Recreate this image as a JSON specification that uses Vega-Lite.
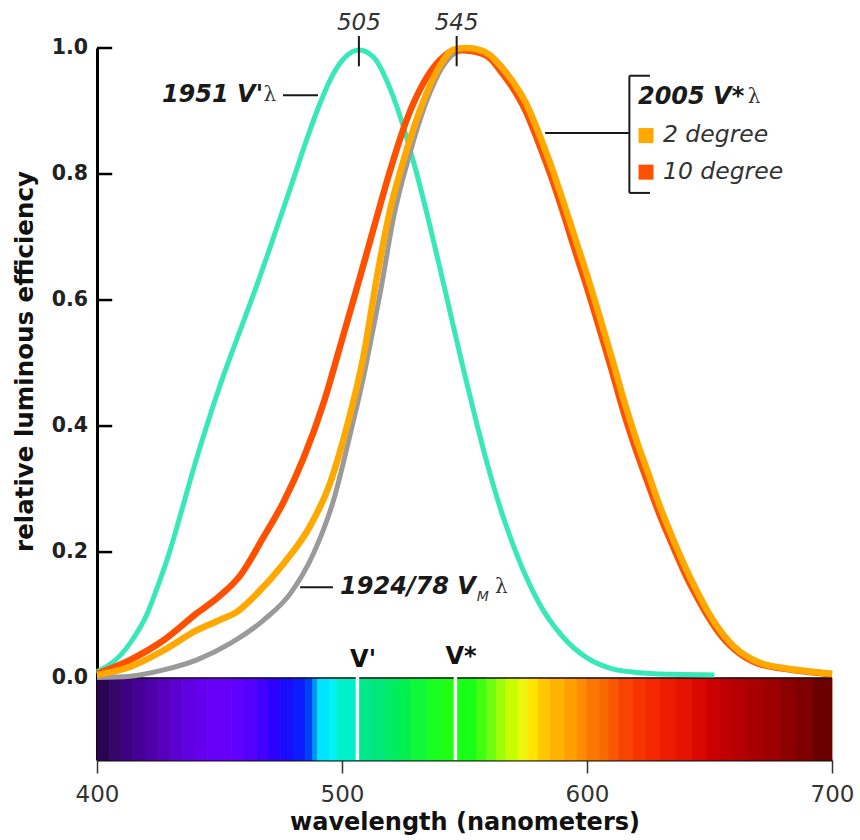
{
  "$schema": "https://vega.github.io/schema/vega-lite/v6.json",
  "width": 735,
  "height": 712,
  "autosize": "none",
  "padding": {"left": 97, "top": 48, "right": 28, "bottom": 80},
  "background": "white",
  "config": {
    "view": {"stroke": null},
    "font": "DejaVu Sans",
    "axisX": {"grid": false, "domainColor": "#111", "domainWidth": 2, "tickColor": "#333", "tickWidth": 1.5, "tickSize": 13,
      "labelFontSize": 23, "labelColor": "#333", "labelPadding": 10, "labelFont": "DejaVu Sans", "labelFlush": false,
      "titleFontSize": 24, "titleFontWeight": "bold", "titleColor": "#111", "titlePadding": 4, "titleFont": "DejaVu Sans"},
    "axisY": {"grid": false, "domainColor": "#000", "domainWidth": 3, "ticks": false, "labels": false,
      "titleFontSize": 24.5, "titleFontWeight": "bold", "titleColor": "#111", "titleFont": "DejaVu Sans"}
  },
  "datasets": {
    "bands": [
      {"w0": 400, "w1": 405}, {"w0": 405, "w1": 410}, {"w0": 410, "w1": 415}, {"w0": 415, "w1": 420},
      {"w0": 420, "w1": 425}, {"w0": 425, "w1": 430}, {"w0": 430, "w1": 435}, {"w0": 435, "w1": 440},
      {"w0": 440, "w1": 445}, {"w0": 445, "w1": 455}, {"w0": 455, "w1": 460}, {"w0": 460, "w1": 465},
      {"w0": 465, "w1": 470}, {"w0": 470, "w1": 475}, {"w0": 475, "w1": 480}, {"w0": 480, "w1": 485},
      {"w0": 485, "w1": 488}, {"w0": 488, "w1": 490}, {"w0": 490, "w1": 495}, {"w0": 495, "w1": 498},
      {"w0": 498, "w1": 506.5}, {"w0": 506.5, "w1": 512}, {"w0": 512, "w1": 518}, {"w0": 518, "w1": 523},
      {"w0": 523, "w1": 528}, {"w0": 528, "w1": 535}, {"w0": 535, "w1": 541}, {"w0": 541, "w1": 546.5},
      {"w0": 546.5, "w1": 555}, {"w0": 555, "w1": 559}, {"w0": 559, "w1": 563}, {"w0": 563, "w1": 567},
      {"w0": 567, "w1": 572}, {"w0": 572, "w1": 576}, {"w0": 576, "w1": 580}, {"w0": 580, "w1": 585},
      {"w0": 585, "w1": 591}, {"w0": 591, "w1": 596}, {"w0": 596, "w1": 600}, {"w0": 600, "w1": 605},
      {"w0": 605, "w1": 609}, {"w0": 609, "w1": 613}, {"w0": 613, "w1": 619}, {"w0": 619, "w1": 624},
      {"w0": 624, "w1": 630}, {"w0": 630, "w1": 636}, {"w0": 636, "w1": 643}, {"w0": 643, "w1": 649},
      {"w0": 649, "w1": 654}, {"w0": 654, "w1": 660}, {"w0": 660, "w1": 665}, {"w0": 665, "w1": 672},
      {"w0": 672, "w1": 679}, {"w0": 679, "w1": 685}, {"w0": 685, "w1": 692}, {"w0": 692, "w1": 700}
    ],
    "curves": [
      {"s": "scot", "w": 400, "v": 0.010}, {"s": "scot", "w": 405, "v": 0.021}, {"s": "scot", "w": 410, "v": 0.038},
      {"s": "scot", "w": 415, "v": 0.064}, {"s": "scot", "w": 420, "v": 0.098}, {"s": "scot", "w": 425, "v": 0.148},
      {"s": "scot", "w": 430, "v": 0.205}, {"s": "scot", "w": 435, "v": 0.272}, {"s": "scot", "w": 440, "v": 0.340},
      {"s": "scot", "w": 445, "v": 0.403}, {"s": "scot", "w": 450, "v": 0.462}, {"s": "scot", "w": 455, "v": 0.516},
      {"s": "scot", "w": 460, "v": 0.568}, {"s": "scot", "w": 465, "v": 0.621}, {"s": "scot", "w": 470, "v": 0.676},
      {"s": "scot", "w": 475, "v": 0.733}, {"s": "scot", "w": 480, "v": 0.790}, {"s": "scot", "w": 485, "v": 0.848},
      {"s": "scot", "w": 490, "v": 0.902}, {"s": "scot", "w": 495, "v": 0.948}, {"s": "scot", "w": 500, "v": 0.980},
      {"s": "scot", "w": 507, "v": 0.997}, {"s": "scot", "w": 513, "v": 0.985}, {"s": "scot", "w": 520, "v": 0.932},
      {"s": "scot", "w": 525, "v": 0.876}, {"s": "scot", "w": 530, "v": 0.808}, {"s": "scot", "w": 535, "v": 0.732},
      {"s": "scot", "w": 540, "v": 0.650}, {"s": "scot", "w": 545, "v": 0.566}, {"s": "scot", "w": 550, "v": 0.483},
      {"s": "scot", "w": 555, "v": 0.404}, {"s": "scot", "w": 560, "v": 0.330}, {"s": "scot", "w": 565, "v": 0.265},
      {"s": "scot", "w": 570, "v": 0.210}, {"s": "scot", "w": 575, "v": 0.162}, {"s": "scot", "w": 580, "v": 0.122},
      {"s": "scot", "w": 590, "v": 0.066}, {"s": "scot", "w": 600, "v": 0.032}, {"s": "scot", "w": 610, "v": 0.015},
      {"s": "scot", "w": 620, "v": 0.009}, {"s": "scot", "w": 635, "v": 0.006}, {"s": "scot", "w": 652, "v": 0.005},

      {"s": "gray", "w": 400, "v": 0.001}, {"s": "gray", "w": 413.6, "v": 0.003}, {"s": "gray", "w": 427.2, "v": 0.013},
      {"s": "gray", "w": 440.8, "v": 0.029}, {"s": "gray", "w": 454.4, "v": 0.055}, {"s": "gray", "w": 468.0, "v": 0.092},
      {"s": "gray", "w": 478.9, "v": 0.134}, {"s": "gray", "w": 488.4, "v": 0.198}, {"s": "gray", "w": 496.6, "v": 0.283},
      {"s": "gray", "w": 503.4, "v": 0.388}, {"s": "gray", "w": 508.9, "v": 0.480}, {"s": "gray", "w": 512, "v": 0.54},
      {"s": "gray", "w": 516, "v": 0.62}, {"s": "gray", "w": 521, "v": 0.73}, {"s": "gray", "w": 527.5, "v": 0.83},
      {"s": "gray", "w": 534, "v": 0.91}, {"s": "gray", "w": 541, "v": 0.97}, {"s": "gray", "w": 548, "v": 0.995},
      {"s": "gray", "w": 555, "v": 0.998}, {"s": "gray", "w": 560, "v": 0.99}, {"s": "gray", "w": 570, "v": 0.945},
      {"s": "gray", "w": 580, "v": 0.865}, {"s": "gray", "w": 590, "v": 0.755}, {"s": "gray", "w": 600, "v": 0.635},
      {"s": "gray", "w": 610, "v": 0.505}, {"s": "gray", "w": 620, "v": 0.375}, {"s": "gray", "w": 630, "v": 0.265},
      {"s": "gray", "w": 640, "v": 0.172}, {"s": "gray", "w": 650, "v": 0.100}, {"s": "gray", "w": 660, "v": 0.048},
      {"s": "gray", "w": 670, "v": 0.024}, {"s": "gray", "w": 680, "v": 0.015}, {"s": "gray", "w": 690, "v": 0.010},
      {"s": "gray", "w": 700, "v": 0.006},

      {"s": "ten", "w": 400, "v": 0.007}, {"s": "ten", "w": 413.6, "v": 0.029}, {"s": "ten", "w": 427.2, "v": 0.060},
      {"s": "ten", "w": 440.8, "v": 0.103}, {"s": "ten", "w": 450, "v": 0.130}, {"s": "ten", "w": 458.5, "v": 0.163},
      {"s": "ten", "w": 468.0, "v": 0.224},
      {"s": "ten", "w": 476.2, "v": 0.280}, {"s": "ten", "w": 484.4, "v": 0.350}, {"s": "ten", "w": 492.5, "v": 0.437},
      {"s": "ten", "w": 499.2, "v": 0.526}, {"s": "ten", "w": 506.0, "v": 0.618}, {"s": "ten", "w": 512.8, "v": 0.712},
      {"s": "ten", "w": 519.6, "v": 0.805}, {"s": "ten", "w": 526.4, "v": 0.886}, {"s": "ten", "w": 533.2, "v": 0.944},
      {"s": "ten", "w": 540.0, "v": 0.981}, {"s": "ten", "w": 546.8, "v": 0.997}, {"s": "ten", "w": 553, "v": 0.995},
      {"s": "ten", "w": 560, "v": 0.985}, {"s": "ten", "w": 565, "v": 0.962}, {"s": "ten", "w": 570, "v": 0.935},
      {"s": "ten", "w": 575, "v": 0.900}, {"s": "ten", "w": 580, "v": 0.852}, {"s": "ten", "w": 585, "v": 0.800},
      {"s": "ten", "w": 590, "v": 0.742}, {"s": "ten", "w": 595, "v": 0.680}, {"s": "ten", "w": 600, "v": 0.620},
      {"s": "ten", "w": 605, "v": 0.556}, {"s": "ten", "w": 610, "v": 0.490}, {"s": "ten", "w": 615, "v": 0.422},
      {"s": "ten", "w": 620, "v": 0.362}, {"s": "ten", "w": 625, "v": 0.308}, {"s": "ten", "w": 630, "v": 0.256},
      {"s": "ten", "w": 635, "v": 0.210}, {"s": "ten", "w": 640, "v": 0.166}, {"s": "ten", "w": 645, "v": 0.128},
      {"s": "ten", "w": 650, "v": 0.094}, {"s": "ten", "w": 655, "v": 0.066}, {"s": "ten", "w": 660, "v": 0.046},
      {"s": "ten", "w": 665, "v": 0.032}, {"s": "ten", "w": 670, "v": 0.023}, {"s": "ten", "w": 680, "v": 0.015},
      {"s": "ten", "w": 690, "v": 0.010}, {"s": "ten", "w": 700, "v": 0.006},

      {"s": "two", "w": 400, "v": 0.005}, {"s": "two", "w": 413.6, "v": 0.018}, {"s": "two", "w": 427.2, "v": 0.044},
      {"s": "two", "w": 440.8, "v": 0.076}, {"s": "two", "w": 450, "v": 0.092}, {"s": "two", "w": 457.1, "v": 0.105},
      {"s": "two", "w": 465.3, "v": 0.134},
      {"s": "two", "w": 476.2, "v": 0.182}, {"s": "two", "w": 487.1, "v": 0.242}, {"s": "two", "w": 495.2, "v": 0.310},
      {"s": "two", "w": 502.0, "v": 0.399}, {"s": "two", "w": 508.8, "v": 0.511}, {"s": "two", "w": 514.2, "v": 0.635},
      {"s": "two", "w": 519.6, "v": 0.742}, {"s": "two", "w": 526.4, "v": 0.838}, {"s": "two", "w": 533.2, "v": 0.915},
      {"s": "two", "w": 540.0, "v": 0.972}, {"s": "two", "w": 545.4, "v": 0.997}, {"s": "two", "w": 550, "v": 1.0},
      {"s": "two", "w": 555, "v": 0.998}, {"s": "two", "w": 560, "v": 0.990}, {"s": "two", "w": 565, "v": 0.970},
      {"s": "two", "w": 570, "v": 0.945}, {"s": "two", "w": 575, "v": 0.913}, {"s": "two", "w": 580, "v": 0.868},
      {"s": "two", "w": 585, "v": 0.817}, {"s": "two", "w": 590, "v": 0.760}, {"s": "two", "w": 595, "v": 0.700},
      {"s": "two", "w": 600, "v": 0.640}, {"s": "two", "w": 605, "v": 0.576}, {"s": "two", "w": 610, "v": 0.510},
      {"s": "two", "w": 615, "v": 0.442}, {"s": "two", "w": 620, "v": 0.380}, {"s": "two", "w": 625, "v": 0.325},
      {"s": "two", "w": 630, "v": 0.270}, {"s": "two", "w": 635, "v": 0.222}, {"s": "two", "w": 640, "v": 0.177},
      {"s": "two", "w": 645, "v": 0.137}, {"s": "two", "w": 650, "v": 0.101}, {"s": "two", "w": 655, "v": 0.072},
      {"s": "two", "w": 660, "v": 0.050}, {"s": "two", "w": 665, "v": 0.035}, {"s": "two", "w": 670, "v": 0.025},
      {"s": "two", "w": 680, "v": 0.016}, {"s": "two", "w": 690, "v": 0.011}, {"s": "two", "w": 700, "v": 0.007}
    ],
    "rules": [
      {"x": 506.9, "x2": 506.9, "y": 0.971, "y2": 1.019},
      {"x": 546.8, "x2": 546.8, "y": 0.971, "y2": 1.019},
      {"x": 475.9, "x2": 490.2, "y": 0.925, "y2": 0.925},
      {"x": 482.9, "x2": 496.3, "y": 0.144, "y2": 0.144},
      {"x": 582.9, "x2": 617.3, "y": 0.865, "y2": 0.865},
      {"x": 617.3, "x2": 617.3, "y": 0.956, "y2": 0.770},
      {"x": 617.3, "x2": 625.7, "y": 0.956, "y2": 0.956},
      {"x": 617.3, "x2": 625.7, "y": 0.770, "y2": 0.770}
    ]
  },
  "layer": [
    {
      "data": {"name": "bands"},
      "mark": {"type": "rect", "strokeWidth": 0.8},
      "encoding": {
        "x": {"field": "w0", "type": "quantitative", "scale": {"domain": [400, 700], "nice": false, "zero": false},
          "axis": {"values": [400, 500, 600, 700], "title": "wavelength (nanometers)"}},
        "x2": {"field": "w1"},
        "y": {"datum": 0, "type": "quantitative", "scale": {"domain": [-0.13, 1], "nice": false, "zero": false},
          "axis": {"values": [0, 0.2, 0.4, 0.6, 0.8, 1.0], "title": "relative luminous efficiency",
            "titleAngle": -90, "titleX": -72, "titleY": 313, "titleAlign": "center", "titleBaseline": "middle"}},
        "y2": {"datum": -0.13},
        "color": {"field": "w0", "type": "nominal", "legend": null, "scale": {
          "domain": [400,405,410,415,420,425,430,435,440,445,455,460,465,470,475,480,485,488,490,495,498,506.5,512,518,523,528,535,541,546.5,555,559,563,567,572,576,580,585,591,596,600,605,609,613,619,624,630,636,643,649,654,660,665,672,679,685,692],
          "range": ["#2a0652","#36066a","#3e0082","#460096","#4e00aa","#5600bc","#5c00d0","#6000e0","#6400ee","#6600f8","#6000ff","#5400ff","#4200ff","#2c00ff","#1a0cff","#0c1cff","#0040f8","#0094f2","#00e4ff","#00f4f4","#00f0cc","#00e88c","#00e87c","#00ec62","#00f050","#10f83a","#18ff20","#20ff14","#18ff18","#40ff10","#6cff10","#a0ff08","#c8ff00","#f0f510","#ffe400","#ffc800","#ffb200","#ffa000","#ff8c00","#fa7800","#f86a00","#f85800","#f84400","#f83400","#f42800","#ec1c00","#e41400","#d80800","#cc0000","#c00000","#b40000","#a80000","#9c0000","#8c0000","#800000","#6a0000"]}},
        "stroke": {"field": "w0", "type": "nominal", "legend": null, "scale": {
          "domain": [400,405,410,415,420,425,430,435,440,445,455,460,465,470,475,480,485,488,490,495,498,506.5,512,518,523,528,535,541,546.5,555,559,563,567,572,576,580,585,591,596,600,605,609,613,619,624,630,636,643,649,654,660,665,672,679,685,692],
          "range": ["#2a0652","#36066a","#3e0082","#460096","#4e00aa","#5600bc","#5c00d0","#6000e0","#6400ee","#6600f8","#6000ff","#5400ff","#4200ff","#2c00ff","#1a0cff","#0c1cff","#0040f8","#0094f2","#00e4ff","#00f4f4","#00f0cc","#00e88c","#00e87c","#00ec62","#00f050","#10f83a","#18ff20","#20ff14","#18ff18","#40ff10","#6cff10","#a0ff08","#c8ff00","#f0f510","#ffe400","#ffc800","#ffb200","#ffa000","#ff8c00","#fa7800","#f86a00","#f85800","#f84400","#f83400","#f42800","#ec1c00","#e41400","#d80800","#cc0000","#c00000","#b40000","#a80000","#9c0000","#8c0000","#800000","#6a0000"]}}
      }
    },
    {
      "data": {"values": [{"a": 400, "b": 700}]},
      "mark": {"type": "rule", "color": "#111", "strokeWidth": 1.5},
      "encoding": {"x": {"field": "a", "type": "quantitative"}, "x2": {"field": "b"}, "y": {"datum": 0, "type": "quantitative"}}
    },
    {
      "data": {"values": [{"t": 0.2}, {"t": 0.4}, {"t": 0.6}, {"t": 0.8}, {"t": 1.0}]},
      "mark": {"type": "rule", "color": "#000", "strokeWidth": 2.5},
      "encoding": {"x": {"datum": 400, "type": "quantitative"}, "x2": {"datum": 406.2}, "y": {"field": "t", "type": "quantitative"}}
    },
    {
      "data": {"values": [{"t": 0.0}, {"t": 0.2}, {"t": 0.4}, {"t": 0.6}, {"t": 0.8}, {"t": 1.0}]},
      "mark": {"type": "text", "fontSize": 20.5, "fontWeight": "bold", "color": "#222", "align": "right", "baseline": "middle", "dx": -9, "font": "DejaVu Sans"},
      "encoding": {"x": {"datum": 400, "type": "quantitative"}, "y": {"field": "t", "type": "quantitative"}, "text": {"field": "t", "type": "quantitative", "format": ".1f"}}
    },
    {
      "data": {"values": [{"g": 506.3}, {"g": 546.3}]},
      "mark": {"type": "rule", "color": "white", "strokeWidth": 3.5},
      "encoding": {"x": {"field": "g", "type": "quantitative"}, "y": {"datum": 0.003, "type": "quantitative"}, "y2": {"datum": -0.13}}
    },
    {
      "data": {"values": [{"x": 508.6, "y": 0.029, "t": "V'"}, {"x": 548.6, "y": 0.033, "t": "V*"}]},
      "mark": {"type": "text", "fontSize": 24, "fontWeight": "bold", "color": "#111", "align": "center", "baseline": "middle", "font": "DejaVu Sans"},
      "encoding": {"x": {"field": "x", "type": "quantitative"}, "y": {"field": "y", "type": "quantitative"}, "text": {"field": "t"}}
    },
    {
      "data": {"name": "curves"},
      "transform": [{"filter": "datum.s === 'scot'"}],
      "mark": {"type": "line", "color": "#38e8b8", "strokeWidth": 5, "interpolate": "monotone"},
      "encoding": {"x": {"field": "w", "type": "quantitative"}, "y": {"field": "v", "type": "quantitative"}}
    },
    {
      "data": {"name": "curves"},
      "transform": [{"filter": "datum.s === 'gray'"}],
      "mark": {"type": "line", "color": "#9a9a9a", "strokeWidth": 5, "interpolate": "monotone"},
      "encoding": {"x": {"field": "w", "type": "quantitative"}, "y": {"field": "v", "type": "quantitative"}}
    },
    {
      "data": {"name": "curves"},
      "transform": [{"filter": "datum.s === 'ten'"}],
      "mark": {"type": "line", "color": "#ff5000", "strokeWidth": 6.5, "interpolate": "monotone"},
      "encoding": {"x": {"field": "w", "type": "quantitative"}, "y": {"field": "v", "type": "quantitative"}}
    },
    {
      "data": {"name": "curves"},
      "transform": [{"filter": "datum.s === 'two'"}],
      "mark": {"type": "line", "color": "#ffa800", "strokeWidth": 6.5, "interpolate": "monotone"},
      "encoding": {"x": {"field": "w", "type": "quantitative"}, "y": {"field": "v", "type": "quantitative"}}
    },
    {
      "data": {"name": "rules"},
      "mark": {"type": "rule", "color": "#1a1a1a", "strokeWidth": 2},
      "encoding": {"x": {"field": "x", "type": "quantitative"}, "x2": {"field": "x2"}, "y": {"field": "y", "type": "quantitative"}, "y2": {"field": "y2"}}
    },
    {
      "data": {"values": [{"x": 624.1, "y": 0.861}]},
      "mark": {"type": "point", "shape": "square", "filled": true, "size": 225, "opacity": 1, "color": "#ffa800"},
      "encoding": {"x": {"field": "x", "type": "quantitative"}, "y": {"field": "y", "type": "quantitative"}}
    },
    {
      "data": {"values": [{"x": 624.1, "y": 0.803}]},
      "mark": {"type": "point", "shape": "square", "filled": true, "size": 225, "opacity": 1, "color": "#ff5000"},
      "encoding": {"x": {"field": "x", "type": "quantitative"}, "y": {"field": "y", "type": "quantitative"}}
    },
    {
      "data": {"values": [{"x": 506.9, "y": 1.04, "t": "505"}, {"x": 546.8, "y": 1.04, "t": "545"}]},
      "mark": {"type": "text", "fontSize": 23, "fontStyle": "italic", "color": "#333", "align": "center", "baseline": "middle", "font": "DejaVu Sans"},
      "encoding": {"x": {"field": "x", "type": "quantitative"}, "y": {"field": "y", "type": "quantitative"}, "text": {"field": "t"}}
    },
    {
      "data": {"values": [{"x": 426.5, "y": 0.925, "t": "1951 V'"}, {"x": 499.2, "y": 0.144, "t": "1924/78 V"}, {"x": 620.8, "y": 0.922, "t": "2005 V*"}]},
      "mark": {"type": "text", "fontSize": 24, "fontStyle": "italic", "fontWeight": "bold", "color": "#1a1a1a", "align": "left", "baseline": "middle", "font": "DejaVu Sans"},
      "encoding": {"x": {"field": "x", "type": "quantitative"}, "y": {"field": "y", "type": "quantitative"}, "text": {"field": "t"}}
    },
    {
      "data": {"values": [{"x": 468.0, "y": 0.925}, {"x": 562.4, "y": 0.144}, {"x": 665.6, "y": 0.922}]},
      "mark": {"type": "text", "fontSize": 20, "color": "#333", "align": "left", "baseline": "middle", "font": "DejaVu Serif", "text": "λ"},
      "encoding": {"x": {"field": "x", "type": "quantitative"}, "y": {"field": "y", "type": "quantitative"}}
    },
    {
      "data": {"values": [{"x": 555.0, "y": 0.128, "t": "M"}]},
      "mark": {"type": "text", "fontSize": 14, "fontStyle": "italic", "color": "#333", "align": "left", "baseline": "middle", "font": "DejaVu Sans"},
      "encoding": {"x": {"field": "x", "type": "quantitative"}, "y": {"field": "y", "type": "quantitative"}, "text": {"field": "t"}}
    },
    {
      "data": {"values": [{"x": 631.0, "y": 0.862, "t": "2 degree"}, {"x": 631.0, "y": 0.803, "t": "10 degree"}]},
      "mark": {"type": "text", "fontSize": 23.5, "fontStyle": "italic", "color": "#333", "align": "left", "baseline": "middle", "font": "DejaVu Sans"},
      "encoding": {"x": {"field": "x", "type": "quantitative"}, "y": {"field": "y", "type": "quantitative"}, "text": {"field": "t"}}
    }
  ]
}
